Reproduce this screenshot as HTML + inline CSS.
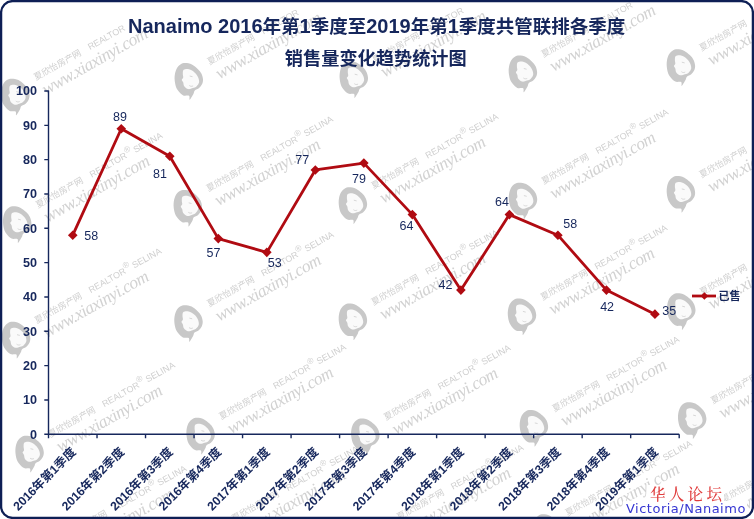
<!DOCTYPE html>
<html><head><meta charset="utf-8"><style>
html,body{margin:0;padding:0;background:#fff;}
body{width:754px;height:519px;overflow:hidden;}
svg{display:block;will-change:transform;}
.t{font-family:"Liberation Sans","Noto Sans CJK SC",sans-serif;}
.c{font-family:"Liberation Sans","Noto Sans CJK SC",sans-serif;}
.wm{font-family:"Liberation Sans","Noto Sans CJK SC",sans-serif;fill:#cfcfcf;}
.wmu{font-family:"Liberation Serif",serif;font-style:italic;fill:#d2d2d2;}
</style></head><body>
<svg width="754" height="519" viewBox="0 0 754 519">



<g transform="translate(15.4,96.9)"><path d="M-3.7,-18.2 C-1.8,-18.2 0.9,-17.8 3.0,-16.8 C5.1,-15.8 7.2,-13.9 8.8,-12.4 C10.4,-10.9 11.7,-9.4 12.6,-7.6 C13.5,-5.8 14.0,-3.6 14.1,-1.8 C14.2,-0.0 13.8,1.6 13.1,3.0 C12.4,4.4 11.4,5.8 10.2,6.8 C9.0,7.8 6.9,8.2 5.9,9.2 C5.0,10.2 5.3,11.1 4.5,12.6 C3.6,14.1 1.5,18.1 0.8,18.4 C0.1,18.7 1.2,15.2 0.1,14.5 C-1.0,13.8 -3.9,14.9 -5.7,14.1 C-7.5,13.3 -9.2,11.4 -10.5,9.7 C-11.8,8.0 -12.8,6.3 -13.4,3.9 C-14.0,1.5 -14.5,-2.0 -14.3,-4.7 C-14.1,-7.4 -13.4,-10.4 -12.4,-12.4 C-11.4,-14.4 -9.9,-15.8 -8.5,-16.8 C-7.0,-17.8 -5.6,-18.2 -3.7,-18.2 Z" fill="#c8c8c8"/>
<path d="M-5.2,-11.5 C-4.2,-12.2 -1.8,-12.5 0.1,-12.0 C2.0,-11.5 4.4,-10.0 5.9,-8.6 C7.4,-7.2 8.6,-5.4 9.3,-3.8 C10.0,-2.2 10.4,-0.4 10.2,1.0 C9.9,2.5 8.8,3.9 7.8,4.9 C6.8,5.9 5.4,6.3 4.0,6.8 C2.6,7.3 0.6,8.1 -0.8,7.8 C-2.2,7.5 -3.9,6.0 -4.7,4.9 C-5.5,3.8 -5.3,2.0 -5.7,1.0 C-6.1,-0.1 -7.1,-0.6 -7.1,-1.4 C-7.1,-2.2 -5.9,-2.8 -5.7,-3.8 C-5.5,-4.8 -6.2,-6.3 -6.1,-7.6 C-6.0,-8.9 -6.2,-10.8 -5.2,-11.5 Z" fill="#fafafa"/>
<path d="M0.8,-5.3 L3.6,-4.6 M0.4,4.2 C1.6,5.2 3,5.2 4.2,4.6" stroke="#d2d2d2" stroke-width="0.9" fill="none"/></g>
<g transform="translate(36.0,80.6) rotate(-29.5)"><text class="wm" x="0" y="0" font-size="8.8">夏欣怡房产网</text>
<text class="wm" x="62" y="0" font-size="8.9">REALTOR</text>
<text class="wmu" x="1.5" y="17.6" font-size="17.5" letter-spacing="-0.55">www.xiaxinyi.com</text></g>
<g transform="translate(17.3,224.5)"><path d="M-3.7,-18.2 C-1.8,-18.2 0.9,-17.8 3.0,-16.8 C5.1,-15.8 7.2,-13.9 8.8,-12.4 C10.4,-10.9 11.7,-9.4 12.6,-7.6 C13.5,-5.8 14.0,-3.6 14.1,-1.8 C14.2,-0.0 13.8,1.6 13.1,3.0 C12.4,4.4 11.4,5.8 10.2,6.8 C9.0,7.8 6.9,8.2 5.9,9.2 C5.0,10.2 5.3,11.1 4.5,12.6 C3.6,14.1 1.5,18.1 0.8,18.4 C0.1,18.7 1.2,15.2 0.1,14.5 C-1.0,13.8 -3.9,14.9 -5.7,14.1 C-7.5,13.3 -9.2,11.4 -10.5,9.7 C-11.8,8.0 -12.8,6.3 -13.4,3.9 C-14.0,1.5 -14.5,-2.0 -14.3,-4.7 C-14.1,-7.4 -13.4,-10.4 -12.4,-12.4 C-11.4,-14.4 -9.9,-15.8 -8.5,-16.8 C-7.0,-17.8 -5.6,-18.2 -3.7,-18.2 Z" fill="#c8c8c8"/>
<path d="M-5.2,-11.5 C-4.2,-12.2 -1.8,-12.5 0.1,-12.0 C2.0,-11.5 4.4,-10.0 5.9,-8.6 C7.4,-7.2 8.6,-5.4 9.3,-3.8 C10.0,-2.2 10.4,-0.4 10.2,1.0 C9.9,2.5 8.8,3.9 7.8,4.9 C6.8,5.9 5.4,6.3 4.0,6.8 C2.6,7.3 0.6,8.1 -0.8,7.8 C-2.2,7.5 -3.9,6.0 -4.7,4.9 C-5.5,3.8 -5.3,2.0 -5.7,1.0 C-6.1,-0.1 -7.1,-0.6 -7.1,-1.4 C-7.1,-2.2 -5.9,-2.8 -5.7,-3.8 C-5.5,-4.8 -6.2,-6.3 -6.1,-7.6 C-6.0,-8.9 -6.2,-10.8 -5.2,-11.5 Z" fill="#fafafa"/>
<path d="M0.8,-5.3 L3.6,-4.6 M0.4,4.2 C1.6,5.2 3,5.2 4.2,4.6" stroke="#d2d2d2" stroke-width="0.9" fill="none"/></g>
<g transform="translate(37.9,208.2) rotate(-29.5)"><text class="wm" x="0" y="0" font-size="8.8">夏欣怡房产网</text>
<text class="wm" x="62" y="0" font-size="8.9">REALTOR</text>
<text class="wmu" x="1.5" y="17.6" font-size="17.5" letter-spacing="-0.55">www.xiaxinyi.com</text><text class="wm" x="103.3" y="-4.3" font-size="8.5">®</text>
<text class="wm" x="112" y="0" font-size="9">SELINA</text></g>
<g transform="translate(16.2,340.0)"><path d="M-3.7,-18.2 C-1.8,-18.2 0.9,-17.8 3.0,-16.8 C5.1,-15.8 7.2,-13.9 8.8,-12.4 C10.4,-10.9 11.7,-9.4 12.6,-7.6 C13.5,-5.8 14.0,-3.6 14.1,-1.8 C14.2,-0.0 13.8,1.6 13.1,3.0 C12.4,4.4 11.4,5.8 10.2,6.8 C9.0,7.8 6.9,8.2 5.9,9.2 C5.0,10.2 5.3,11.1 4.5,12.6 C3.6,14.1 1.5,18.1 0.8,18.4 C0.1,18.7 1.2,15.2 0.1,14.5 C-1.0,13.8 -3.9,14.9 -5.7,14.1 C-7.5,13.3 -9.2,11.4 -10.5,9.7 C-11.8,8.0 -12.8,6.3 -13.4,3.9 C-14.0,1.5 -14.5,-2.0 -14.3,-4.7 C-14.1,-7.4 -13.4,-10.4 -12.4,-12.4 C-11.4,-14.4 -9.9,-15.8 -8.5,-16.8 C-7.0,-17.8 -5.6,-18.2 -3.7,-18.2 Z" fill="#c8c8c8"/>
<path d="M-5.2,-11.5 C-4.2,-12.2 -1.8,-12.5 0.1,-12.0 C2.0,-11.5 4.4,-10.0 5.9,-8.6 C7.4,-7.2 8.6,-5.4 9.3,-3.8 C10.0,-2.2 10.4,-0.4 10.2,1.0 C9.9,2.5 8.8,3.9 7.8,4.9 C6.8,5.9 5.4,6.3 4.0,6.8 C2.6,7.3 0.6,8.1 -0.8,7.8 C-2.2,7.5 -3.9,6.0 -4.7,4.9 C-5.5,3.8 -5.3,2.0 -5.7,1.0 C-6.1,-0.1 -7.1,-0.6 -7.1,-1.4 C-7.1,-2.2 -5.9,-2.8 -5.7,-3.8 C-5.5,-4.8 -6.2,-6.3 -6.1,-7.6 C-6.0,-8.9 -6.2,-10.8 -5.2,-11.5 Z" fill="#fafafa"/>
<path d="M0.8,-5.3 L3.6,-4.6 M0.4,4.2 C1.6,5.2 3,5.2 4.2,4.6" stroke="#d2d2d2" stroke-width="0.9" fill="none"/></g>
<g transform="translate(36.8,323.7) rotate(-29.5)"><text class="wm" x="0" y="0" font-size="8.8">夏欣怡房产网</text>
<text class="wm" x="62" y="0" font-size="8.9">REALTOR</text>
<text class="wmu" x="1.5" y="17.6" font-size="17.5" letter-spacing="-0.55">www.xiaxinyi.com</text><text class="wm" x="103.3" y="-4.3" font-size="8.5">®</text>
<text class="wm" x="112" y="0" font-size="9">SELINA</text></g>
<g transform="translate(29.7,454.0)"><path d="M-3.7,-18.2 C-1.8,-18.2 0.9,-17.8 3.0,-16.8 C5.1,-15.8 7.2,-13.9 8.8,-12.4 C10.4,-10.9 11.7,-9.4 12.6,-7.6 C13.5,-5.8 14.0,-3.6 14.1,-1.8 C14.2,-0.0 13.8,1.6 13.1,3.0 C12.4,4.4 11.4,5.8 10.2,6.8 C9.0,7.8 6.9,8.2 5.9,9.2 C5.0,10.2 5.3,11.1 4.5,12.6 C3.6,14.1 1.5,18.1 0.8,18.4 C0.1,18.7 1.2,15.2 0.1,14.5 C-1.0,13.8 -3.9,14.9 -5.7,14.1 C-7.5,13.3 -9.2,11.4 -10.5,9.7 C-11.8,8.0 -12.8,6.3 -13.4,3.9 C-14.0,1.5 -14.5,-2.0 -14.3,-4.7 C-14.1,-7.4 -13.4,-10.4 -12.4,-12.4 C-11.4,-14.4 -9.9,-15.8 -8.5,-16.8 C-7.0,-17.8 -5.6,-18.2 -3.7,-18.2 Z" fill="#c8c8c8"/>
<path d="M-5.2,-11.5 C-4.2,-12.2 -1.8,-12.5 0.1,-12.0 C2.0,-11.5 4.4,-10.0 5.9,-8.6 C7.4,-7.2 8.6,-5.4 9.3,-3.8 C10.0,-2.2 10.4,-0.4 10.2,1.0 C9.9,2.5 8.8,3.9 7.8,4.9 C6.8,5.9 5.4,6.3 4.0,6.8 C2.6,7.3 0.6,8.1 -0.8,7.8 C-2.2,7.5 -3.9,6.0 -4.7,4.9 C-5.5,3.8 -5.3,2.0 -5.7,1.0 C-6.1,-0.1 -7.1,-0.6 -7.1,-1.4 C-7.1,-2.2 -5.9,-2.8 -5.7,-3.8 C-5.5,-4.8 -6.2,-6.3 -6.1,-7.6 C-6.0,-8.9 -6.2,-10.8 -5.2,-11.5 Z" fill="#fafafa"/>
<path d="M0.8,-5.3 L3.6,-4.6 M0.4,4.2 C1.6,5.2 3,5.2 4.2,4.6" stroke="#d2d2d2" stroke-width="0.9" fill="none"/></g>
<g transform="translate(50.3,437.7) rotate(-29.5)"><text class="wm" x="0" y="0" font-size="8.8">夏欣怡房产网</text>
<text class="wm" x="62" y="0" font-size="8.9">REALTOR</text>
<text class="wmu" x="1.5" y="17.6" font-size="17.5" letter-spacing="-0.55">www.xiaxinyi.com</text><text class="wm" x="103.3" y="-4.3" font-size="8.5">®</text>
<text class="wm" x="112" y="0" font-size="9">SELINA</text></g>
<g transform="translate(41.4,557.5)"><path d="M-3.7,-18.2 C-1.8,-18.2 0.9,-17.8 3.0,-16.8 C5.1,-15.8 7.2,-13.9 8.8,-12.4 C10.4,-10.9 11.7,-9.4 12.6,-7.6 C13.5,-5.8 14.0,-3.6 14.1,-1.8 C14.2,-0.0 13.8,1.6 13.1,3.0 C12.4,4.4 11.4,5.8 10.2,6.8 C9.0,7.8 6.9,8.2 5.9,9.2 C5.0,10.2 5.3,11.1 4.5,12.6 C3.6,14.1 1.5,18.1 0.8,18.4 C0.1,18.7 1.2,15.2 0.1,14.5 C-1.0,13.8 -3.9,14.9 -5.7,14.1 C-7.5,13.3 -9.2,11.4 -10.5,9.7 C-11.8,8.0 -12.8,6.3 -13.4,3.9 C-14.0,1.5 -14.5,-2.0 -14.3,-4.7 C-14.1,-7.4 -13.4,-10.4 -12.4,-12.4 C-11.4,-14.4 -9.9,-15.8 -8.5,-16.8 C-7.0,-17.8 -5.6,-18.2 -3.7,-18.2 Z" fill="#c8c8c8"/>
<path d="M-5.2,-11.5 C-4.2,-12.2 -1.8,-12.5 0.1,-12.0 C2.0,-11.5 4.4,-10.0 5.9,-8.6 C7.4,-7.2 8.6,-5.4 9.3,-3.8 C10.0,-2.2 10.4,-0.4 10.2,1.0 C9.9,2.5 8.8,3.9 7.8,4.9 C6.8,5.9 5.4,6.3 4.0,6.8 C2.6,7.3 0.6,8.1 -0.8,7.8 C-2.2,7.5 -3.9,6.0 -4.7,4.9 C-5.5,3.8 -5.3,2.0 -5.7,1.0 C-6.1,-0.1 -7.1,-0.6 -7.1,-1.4 C-7.1,-2.2 -5.9,-2.8 -5.7,-3.8 C-5.5,-4.8 -6.2,-6.3 -6.1,-7.6 C-6.0,-8.9 -6.2,-10.8 -5.2,-11.5 Z" fill="#fafafa"/>
<path d="M0.8,-5.3 L3.6,-4.6 M0.4,4.2 C1.6,5.2 3,5.2 4.2,4.6" stroke="#d2d2d2" stroke-width="0.9" fill="none"/></g>
<g transform="translate(62.0,541.2) rotate(-29.5)"><text class="wm" x="0" y="0" font-size="8.8">夏欣怡房产网</text>
<text class="wm" x="62" y="0" font-size="8.9">REALTOR</text>
<text class="wmu" x="1.5" y="17.6" font-size="17.5" letter-spacing="-0.55">www.xiaxinyi.com</text><text class="wm" x="103.3" y="-4.3" font-size="8.5">®</text>
<text class="wm" x="112" y="0" font-size="9">SELINA</text></g>
<g transform="translate(188.9,81.3)"><path d="M-3.7,-18.2 C-1.8,-18.2 0.9,-17.8 3.0,-16.8 C5.1,-15.8 7.2,-13.9 8.8,-12.4 C10.4,-10.9 11.7,-9.4 12.6,-7.6 C13.5,-5.8 14.0,-3.6 14.1,-1.8 C14.2,-0.0 13.8,1.6 13.1,3.0 C12.4,4.4 11.4,5.8 10.2,6.8 C9.0,7.8 6.9,8.2 5.9,9.2 C5.0,10.2 5.3,11.1 4.5,12.6 C3.6,14.1 1.5,18.1 0.8,18.4 C0.1,18.7 1.2,15.2 0.1,14.5 C-1.0,13.8 -3.9,14.9 -5.7,14.1 C-7.5,13.3 -9.2,11.4 -10.5,9.7 C-11.8,8.0 -12.8,6.3 -13.4,3.9 C-14.0,1.5 -14.5,-2.0 -14.3,-4.7 C-14.1,-7.4 -13.4,-10.4 -12.4,-12.4 C-11.4,-14.4 -9.9,-15.8 -8.5,-16.8 C-7.0,-17.8 -5.6,-18.2 -3.7,-18.2 Z" fill="#c8c8c8"/>
<path d="M-5.2,-11.5 C-4.2,-12.2 -1.8,-12.5 0.1,-12.0 C2.0,-11.5 4.4,-10.0 5.9,-8.6 C7.4,-7.2 8.6,-5.4 9.3,-3.8 C10.0,-2.2 10.4,-0.4 10.2,1.0 C9.9,2.5 8.8,3.9 7.8,4.9 C6.8,5.9 5.4,6.3 4.0,6.8 C2.6,7.3 0.6,8.1 -0.8,7.8 C-2.2,7.5 -3.9,6.0 -4.7,4.9 C-5.5,3.8 -5.3,2.0 -5.7,1.0 C-6.1,-0.1 -7.1,-0.6 -7.1,-1.4 C-7.1,-2.2 -5.9,-2.8 -5.7,-3.8 C-5.5,-4.8 -6.2,-6.3 -6.1,-7.6 C-6.0,-8.9 -6.2,-10.8 -5.2,-11.5 Z" fill="#fafafa"/>
<path d="M0.8,-5.3 L3.6,-4.6 M0.4,4.2 C1.6,5.2 3,5.2 4.2,4.6" stroke="#d2d2d2" stroke-width="0.9" fill="none"/></g>
<g transform="translate(209.5,65.0) rotate(-29.5)"><text class="wm" x="0" y="0" font-size="8.8">夏欣怡房产网</text>
<text class="wm" x="62" y="0" font-size="8.9">REALTOR</text>
<text class="wmu" x="1.5" y="17.6" font-size="17.5" letter-spacing="-0.55">www.xiaxinyi.com</text></g>
<g transform="translate(187.9,208.1)"><path d="M-3.7,-18.2 C-1.8,-18.2 0.9,-17.8 3.0,-16.8 C5.1,-15.8 7.2,-13.9 8.8,-12.4 C10.4,-10.9 11.7,-9.4 12.6,-7.6 C13.5,-5.8 14.0,-3.6 14.1,-1.8 C14.2,-0.0 13.8,1.6 13.1,3.0 C12.4,4.4 11.4,5.8 10.2,6.8 C9.0,7.8 6.9,8.2 5.9,9.2 C5.0,10.2 5.3,11.1 4.5,12.6 C3.6,14.1 1.5,18.1 0.8,18.4 C0.1,18.7 1.2,15.2 0.1,14.5 C-1.0,13.8 -3.9,14.9 -5.7,14.1 C-7.5,13.3 -9.2,11.4 -10.5,9.7 C-11.8,8.0 -12.8,6.3 -13.4,3.9 C-14.0,1.5 -14.5,-2.0 -14.3,-4.7 C-14.1,-7.4 -13.4,-10.4 -12.4,-12.4 C-11.4,-14.4 -9.9,-15.8 -8.5,-16.8 C-7.0,-17.8 -5.6,-18.2 -3.7,-18.2 Z" fill="#c8c8c8"/>
<path d="M-5.2,-11.5 C-4.2,-12.2 -1.8,-12.5 0.1,-12.0 C2.0,-11.5 4.4,-10.0 5.9,-8.6 C7.4,-7.2 8.6,-5.4 9.3,-3.8 C10.0,-2.2 10.4,-0.4 10.2,1.0 C9.9,2.5 8.8,3.9 7.8,4.9 C6.8,5.9 5.4,6.3 4.0,6.8 C2.6,7.3 0.6,8.1 -0.8,7.8 C-2.2,7.5 -3.9,6.0 -4.7,4.9 C-5.5,3.8 -5.3,2.0 -5.7,1.0 C-6.1,-0.1 -7.1,-0.6 -7.1,-1.4 C-7.1,-2.2 -5.9,-2.8 -5.7,-3.8 C-5.5,-4.8 -6.2,-6.3 -6.1,-7.6 C-6.0,-8.9 -6.2,-10.8 -5.2,-11.5 Z" fill="#fafafa"/>
<path d="M0.8,-5.3 L3.6,-4.6 M0.4,4.2 C1.6,5.2 3,5.2 4.2,4.6" stroke="#d2d2d2" stroke-width="0.9" fill="none"/></g>
<g transform="translate(208.5,191.8) rotate(-29.5)"><text class="wm" x="0" y="0" font-size="8.8">夏欣怡房产网</text>
<text class="wm" x="62" y="0" font-size="8.9">REALTOR</text>
<text class="wmu" x="1.5" y="17.6" font-size="17.5" letter-spacing="-0.55">www.xiaxinyi.com</text><text class="wm" x="103.3" y="-4.3" font-size="8.5">®</text>
<text class="wm" x="112" y="0" font-size="9">SELINA</text></g>
<g transform="translate(188.6,323.4)"><path d="M-3.7,-18.2 C-1.8,-18.2 0.9,-17.8 3.0,-16.8 C5.1,-15.8 7.2,-13.9 8.8,-12.4 C10.4,-10.9 11.7,-9.4 12.6,-7.6 C13.5,-5.8 14.0,-3.6 14.1,-1.8 C14.2,-0.0 13.8,1.6 13.1,3.0 C12.4,4.4 11.4,5.8 10.2,6.8 C9.0,7.8 6.9,8.2 5.9,9.2 C5.0,10.2 5.3,11.1 4.5,12.6 C3.6,14.1 1.5,18.1 0.8,18.4 C0.1,18.7 1.2,15.2 0.1,14.5 C-1.0,13.8 -3.9,14.9 -5.7,14.1 C-7.5,13.3 -9.2,11.4 -10.5,9.7 C-11.8,8.0 -12.8,6.3 -13.4,3.9 C-14.0,1.5 -14.5,-2.0 -14.3,-4.7 C-14.1,-7.4 -13.4,-10.4 -12.4,-12.4 C-11.4,-14.4 -9.9,-15.8 -8.5,-16.8 C-7.0,-17.8 -5.6,-18.2 -3.7,-18.2 Z" fill="#c8c8c8"/>
<path d="M-5.2,-11.5 C-4.2,-12.2 -1.8,-12.5 0.1,-12.0 C2.0,-11.5 4.4,-10.0 5.9,-8.6 C7.4,-7.2 8.6,-5.4 9.3,-3.8 C10.0,-2.2 10.4,-0.4 10.2,1.0 C9.9,2.5 8.8,3.9 7.8,4.9 C6.8,5.9 5.4,6.3 4.0,6.8 C2.6,7.3 0.6,8.1 -0.8,7.8 C-2.2,7.5 -3.9,6.0 -4.7,4.9 C-5.5,3.8 -5.3,2.0 -5.7,1.0 C-6.1,-0.1 -7.1,-0.6 -7.1,-1.4 C-7.1,-2.2 -5.9,-2.8 -5.7,-3.8 C-5.5,-4.8 -6.2,-6.3 -6.1,-7.6 C-6.0,-8.9 -6.2,-10.8 -5.2,-11.5 Z" fill="#fafafa"/>
<path d="M0.8,-5.3 L3.6,-4.6 M0.4,4.2 C1.6,5.2 3,5.2 4.2,4.6" stroke="#d2d2d2" stroke-width="0.9" fill="none"/></g>
<g transform="translate(209.2,307.1) rotate(-29.5)"><text class="wm" x="0" y="0" font-size="8.8">夏欣怡房产网</text>
<text class="wm" x="62" y="0" font-size="8.9">REALTOR</text>
<text class="wmu" x="1.5" y="17.6" font-size="17.5" letter-spacing="-0.55">www.xiaxinyi.com</text><text class="wm" x="103.3" y="-4.3" font-size="8.5">®</text>
<text class="wm" x="112" y="0" font-size="9">SELINA</text></g>
<g transform="translate(200.7,436.0)"><path d="M-3.7,-18.2 C-1.8,-18.2 0.9,-17.8 3.0,-16.8 C5.1,-15.8 7.2,-13.9 8.8,-12.4 C10.4,-10.9 11.7,-9.4 12.6,-7.6 C13.5,-5.8 14.0,-3.6 14.1,-1.8 C14.2,-0.0 13.8,1.6 13.1,3.0 C12.4,4.4 11.4,5.8 10.2,6.8 C9.0,7.8 6.9,8.2 5.9,9.2 C5.0,10.2 5.3,11.1 4.5,12.6 C3.6,14.1 1.5,18.1 0.8,18.4 C0.1,18.7 1.2,15.2 0.1,14.5 C-1.0,13.8 -3.9,14.9 -5.7,14.1 C-7.5,13.3 -9.2,11.4 -10.5,9.7 C-11.8,8.0 -12.8,6.3 -13.4,3.9 C-14.0,1.5 -14.5,-2.0 -14.3,-4.7 C-14.1,-7.4 -13.4,-10.4 -12.4,-12.4 C-11.4,-14.4 -9.9,-15.8 -8.5,-16.8 C-7.0,-17.8 -5.6,-18.2 -3.7,-18.2 Z" fill="#c8c8c8"/>
<path d="M-5.2,-11.5 C-4.2,-12.2 -1.8,-12.5 0.1,-12.0 C2.0,-11.5 4.4,-10.0 5.9,-8.6 C7.4,-7.2 8.6,-5.4 9.3,-3.8 C10.0,-2.2 10.4,-0.4 10.2,1.0 C9.9,2.5 8.8,3.9 7.8,4.9 C6.8,5.9 5.4,6.3 4.0,6.8 C2.6,7.3 0.6,8.1 -0.8,7.8 C-2.2,7.5 -3.9,6.0 -4.7,4.9 C-5.5,3.8 -5.3,2.0 -5.7,1.0 C-6.1,-0.1 -7.1,-0.6 -7.1,-1.4 C-7.1,-2.2 -5.9,-2.8 -5.7,-3.8 C-5.5,-4.8 -6.2,-6.3 -6.1,-7.6 C-6.0,-8.9 -6.2,-10.8 -5.2,-11.5 Z" fill="#fafafa"/>
<path d="M0.8,-5.3 L3.6,-4.6 M0.4,4.2 C1.6,5.2 3,5.2 4.2,4.6" stroke="#d2d2d2" stroke-width="0.9" fill="none"/></g>
<g transform="translate(221.3,419.7) rotate(-29.5)"><text class="wm" x="0" y="0" font-size="8.8">夏欣怡房产网</text>
<text class="wm" x="62" y="0" font-size="8.9">REALTOR</text>
<text class="wmu" x="1.5" y="17.6" font-size="17.5" letter-spacing="-0.55">www.xiaxinyi.com</text><text class="wm" x="103.3" y="-4.3" font-size="8.5">®</text>
<text class="wm" x="112" y="0" font-size="9">SELINA</text></g>
<g transform="translate(213.4,538.0)"><path d="M-3.7,-18.2 C-1.8,-18.2 0.9,-17.8 3.0,-16.8 C5.1,-15.8 7.2,-13.9 8.8,-12.4 C10.4,-10.9 11.7,-9.4 12.6,-7.6 C13.5,-5.8 14.0,-3.6 14.1,-1.8 C14.2,-0.0 13.8,1.6 13.1,3.0 C12.4,4.4 11.4,5.8 10.2,6.8 C9.0,7.8 6.9,8.2 5.9,9.2 C5.0,10.2 5.3,11.1 4.5,12.6 C3.6,14.1 1.5,18.1 0.8,18.4 C0.1,18.7 1.2,15.2 0.1,14.5 C-1.0,13.8 -3.9,14.9 -5.7,14.1 C-7.5,13.3 -9.2,11.4 -10.5,9.7 C-11.8,8.0 -12.8,6.3 -13.4,3.9 C-14.0,1.5 -14.5,-2.0 -14.3,-4.7 C-14.1,-7.4 -13.4,-10.4 -12.4,-12.4 C-11.4,-14.4 -9.9,-15.8 -8.5,-16.8 C-7.0,-17.8 -5.6,-18.2 -3.7,-18.2 Z" fill="#c8c8c8"/>
<path d="M-5.2,-11.5 C-4.2,-12.2 -1.8,-12.5 0.1,-12.0 C2.0,-11.5 4.4,-10.0 5.9,-8.6 C7.4,-7.2 8.6,-5.4 9.3,-3.8 C10.0,-2.2 10.4,-0.4 10.2,1.0 C9.9,2.5 8.8,3.9 7.8,4.9 C6.8,5.9 5.4,6.3 4.0,6.8 C2.6,7.3 0.6,8.1 -0.8,7.8 C-2.2,7.5 -3.9,6.0 -4.7,4.9 C-5.5,3.8 -5.3,2.0 -5.7,1.0 C-6.1,-0.1 -7.1,-0.6 -7.1,-1.4 C-7.1,-2.2 -5.9,-2.8 -5.7,-3.8 C-5.5,-4.8 -6.2,-6.3 -6.1,-7.6 C-6.0,-8.9 -6.2,-10.8 -5.2,-11.5 Z" fill="#fafafa"/>
<path d="M0.8,-5.3 L3.6,-4.6 M0.4,4.2 C1.6,5.2 3,5.2 4.2,4.6" stroke="#d2d2d2" stroke-width="0.9" fill="none"/></g>
<g transform="translate(234.0,521.7) rotate(-29.5)"><text class="wm" x="0" y="0" font-size="8.8">夏欣怡房产网</text>
<text class="wm" x="62" y="0" font-size="8.9">REALTOR</text>
<text class="wmu" x="1.5" y="17.6" font-size="17.5" letter-spacing="-0.55">www.xiaxinyi.com</text><text class="wm" x="103.3" y="-4.3" font-size="8.5">®</text>
<text class="wm" x="112" y="0" font-size="9">SELINA</text></g>
<g transform="translate(353.9,79.5)"><path d="M-3.7,-18.2 C-1.8,-18.2 0.9,-17.8 3.0,-16.8 C5.1,-15.8 7.2,-13.9 8.8,-12.4 C10.4,-10.9 11.7,-9.4 12.6,-7.6 C13.5,-5.8 14.0,-3.6 14.1,-1.8 C14.2,-0.0 13.8,1.6 13.1,3.0 C12.4,4.4 11.4,5.8 10.2,6.8 C9.0,7.8 6.9,8.2 5.9,9.2 C5.0,10.2 5.3,11.1 4.5,12.6 C3.6,14.1 1.5,18.1 0.8,18.4 C0.1,18.7 1.2,15.2 0.1,14.5 C-1.0,13.8 -3.9,14.9 -5.7,14.1 C-7.5,13.3 -9.2,11.4 -10.5,9.7 C-11.8,8.0 -12.8,6.3 -13.4,3.9 C-14.0,1.5 -14.5,-2.0 -14.3,-4.7 C-14.1,-7.4 -13.4,-10.4 -12.4,-12.4 C-11.4,-14.4 -9.9,-15.8 -8.5,-16.8 C-7.0,-17.8 -5.6,-18.2 -3.7,-18.2 Z" fill="#c8c8c8"/>
<path d="M-5.2,-11.5 C-4.2,-12.2 -1.8,-12.5 0.1,-12.0 C2.0,-11.5 4.4,-10.0 5.9,-8.6 C7.4,-7.2 8.6,-5.4 9.3,-3.8 C10.0,-2.2 10.4,-0.4 10.2,1.0 C9.9,2.5 8.8,3.9 7.8,4.9 C6.8,5.9 5.4,6.3 4.0,6.8 C2.6,7.3 0.6,8.1 -0.8,7.8 C-2.2,7.5 -3.9,6.0 -4.7,4.9 C-5.5,3.8 -5.3,2.0 -5.7,1.0 C-6.1,-0.1 -7.1,-0.6 -7.1,-1.4 C-7.1,-2.2 -5.9,-2.8 -5.7,-3.8 C-5.5,-4.8 -6.2,-6.3 -6.1,-7.6 C-6.0,-8.9 -6.2,-10.8 -5.2,-11.5 Z" fill="#fafafa"/>
<path d="M0.8,-5.3 L3.6,-4.6 M0.4,4.2 C1.6,5.2 3,5.2 4.2,4.6" stroke="#d2d2d2" stroke-width="0.9" fill="none"/></g>
<g transform="translate(374.5,63.2) rotate(-29.5)"><text class="wm" x="0" y="0" font-size="8.8">夏欣怡房产网</text>
<text class="wm" x="62" y="0" font-size="8.9">REALTOR</text>
<text class="wmu" x="1.5" y="17.6" font-size="17.5" letter-spacing="-0.55">www.xiaxinyi.com</text></g>
<g transform="translate(353.0,205.5)"><path d="M-3.7,-18.2 C-1.8,-18.2 0.9,-17.8 3.0,-16.8 C5.1,-15.8 7.2,-13.9 8.8,-12.4 C10.4,-10.9 11.7,-9.4 12.6,-7.6 C13.5,-5.8 14.0,-3.6 14.1,-1.8 C14.2,-0.0 13.8,1.6 13.1,3.0 C12.4,4.4 11.4,5.8 10.2,6.8 C9.0,7.8 6.9,8.2 5.9,9.2 C5.0,10.2 5.3,11.1 4.5,12.6 C3.6,14.1 1.5,18.1 0.8,18.4 C0.1,18.7 1.2,15.2 0.1,14.5 C-1.0,13.8 -3.9,14.9 -5.7,14.1 C-7.5,13.3 -9.2,11.4 -10.5,9.7 C-11.8,8.0 -12.8,6.3 -13.4,3.9 C-14.0,1.5 -14.5,-2.0 -14.3,-4.7 C-14.1,-7.4 -13.4,-10.4 -12.4,-12.4 C-11.4,-14.4 -9.9,-15.8 -8.5,-16.8 C-7.0,-17.8 -5.6,-18.2 -3.7,-18.2 Z" fill="#c8c8c8"/>
<path d="M-5.2,-11.5 C-4.2,-12.2 -1.8,-12.5 0.1,-12.0 C2.0,-11.5 4.4,-10.0 5.9,-8.6 C7.4,-7.2 8.6,-5.4 9.3,-3.8 C10.0,-2.2 10.4,-0.4 10.2,1.0 C9.9,2.5 8.8,3.9 7.8,4.9 C6.8,5.9 5.4,6.3 4.0,6.8 C2.6,7.3 0.6,8.1 -0.8,7.8 C-2.2,7.5 -3.9,6.0 -4.7,4.9 C-5.5,3.8 -5.3,2.0 -5.7,1.0 C-6.1,-0.1 -7.1,-0.6 -7.1,-1.4 C-7.1,-2.2 -5.9,-2.8 -5.7,-3.8 C-5.5,-4.8 -6.2,-6.3 -6.1,-7.6 C-6.0,-8.9 -6.2,-10.8 -5.2,-11.5 Z" fill="#fafafa"/>
<path d="M0.8,-5.3 L3.6,-4.6 M0.4,4.2 C1.6,5.2 3,5.2 4.2,4.6" stroke="#d2d2d2" stroke-width="0.9" fill="none"/></g>
<g transform="translate(373.6,189.2) rotate(-29.5)"><text class="wm" x="0" y="0" font-size="8.8">夏欣怡房产网</text>
<text class="wm" x="62" y="0" font-size="8.9">REALTOR</text>
<text class="wmu" x="1.5" y="17.6" font-size="17.5" letter-spacing="-0.55">www.xiaxinyi.com</text><text class="wm" x="103.3" y="-4.3" font-size="8.5">®</text>
<text class="wm" x="112" y="0" font-size="9">SELINA</text></g>
<g transform="translate(353.0,321.7)"><path d="M-3.7,-18.2 C-1.8,-18.2 0.9,-17.8 3.0,-16.8 C5.1,-15.8 7.2,-13.9 8.8,-12.4 C10.4,-10.9 11.7,-9.4 12.6,-7.6 C13.5,-5.8 14.0,-3.6 14.1,-1.8 C14.2,-0.0 13.8,1.6 13.1,3.0 C12.4,4.4 11.4,5.8 10.2,6.8 C9.0,7.8 6.9,8.2 5.9,9.2 C5.0,10.2 5.3,11.1 4.5,12.6 C3.6,14.1 1.5,18.1 0.8,18.4 C0.1,18.7 1.2,15.2 0.1,14.5 C-1.0,13.8 -3.9,14.9 -5.7,14.1 C-7.5,13.3 -9.2,11.4 -10.5,9.7 C-11.8,8.0 -12.8,6.3 -13.4,3.9 C-14.0,1.5 -14.5,-2.0 -14.3,-4.7 C-14.1,-7.4 -13.4,-10.4 -12.4,-12.4 C-11.4,-14.4 -9.9,-15.8 -8.5,-16.8 C-7.0,-17.8 -5.6,-18.2 -3.7,-18.2 Z" fill="#c8c8c8"/>
<path d="M-5.2,-11.5 C-4.2,-12.2 -1.8,-12.5 0.1,-12.0 C2.0,-11.5 4.4,-10.0 5.9,-8.6 C7.4,-7.2 8.6,-5.4 9.3,-3.8 C10.0,-2.2 10.4,-0.4 10.2,1.0 C9.9,2.5 8.8,3.9 7.8,4.9 C6.8,5.9 5.4,6.3 4.0,6.8 C2.6,7.3 0.6,8.1 -0.8,7.8 C-2.2,7.5 -3.9,6.0 -4.7,4.9 C-5.5,3.8 -5.3,2.0 -5.7,1.0 C-6.1,-0.1 -7.1,-0.6 -7.1,-1.4 C-7.1,-2.2 -5.9,-2.8 -5.7,-3.8 C-5.5,-4.8 -6.2,-6.3 -6.1,-7.6 C-6.0,-8.9 -6.2,-10.8 -5.2,-11.5 Z" fill="#fafafa"/>
<path d="M0.8,-5.3 L3.6,-4.6 M0.4,4.2 C1.6,5.2 3,5.2 4.2,4.6" stroke="#d2d2d2" stroke-width="0.9" fill="none"/></g>
<g transform="translate(373.6,305.4) rotate(-29.5)"><text class="wm" x="0" y="0" font-size="8.8">夏欣怡房产网</text>
<text class="wm" x="62" y="0" font-size="8.9">REALTOR</text>
<text class="wmu" x="1.5" y="17.6" font-size="17.5" letter-spacing="-0.55">www.xiaxinyi.com</text><text class="wm" x="103.3" y="-4.3" font-size="8.5">®</text>
<text class="wm" x="112" y="0" font-size="9">SELINA</text></g>
<g transform="translate(365.4,436.7)"><path d="M-3.7,-18.2 C-1.8,-18.2 0.9,-17.8 3.0,-16.8 C5.1,-15.8 7.2,-13.9 8.8,-12.4 C10.4,-10.9 11.7,-9.4 12.6,-7.6 C13.5,-5.8 14.0,-3.6 14.1,-1.8 C14.2,-0.0 13.8,1.6 13.1,3.0 C12.4,4.4 11.4,5.8 10.2,6.8 C9.0,7.8 6.9,8.2 5.9,9.2 C5.0,10.2 5.3,11.1 4.5,12.6 C3.6,14.1 1.5,18.1 0.8,18.4 C0.1,18.7 1.2,15.2 0.1,14.5 C-1.0,13.8 -3.9,14.9 -5.7,14.1 C-7.5,13.3 -9.2,11.4 -10.5,9.7 C-11.8,8.0 -12.8,6.3 -13.4,3.9 C-14.0,1.5 -14.5,-2.0 -14.3,-4.7 C-14.1,-7.4 -13.4,-10.4 -12.4,-12.4 C-11.4,-14.4 -9.9,-15.8 -8.5,-16.8 C-7.0,-17.8 -5.6,-18.2 -3.7,-18.2 Z" fill="#c8c8c8"/>
<path d="M-5.2,-11.5 C-4.2,-12.2 -1.8,-12.5 0.1,-12.0 C2.0,-11.5 4.4,-10.0 5.9,-8.6 C7.4,-7.2 8.6,-5.4 9.3,-3.8 C10.0,-2.2 10.4,-0.4 10.2,1.0 C9.9,2.5 8.8,3.9 7.8,4.9 C6.8,5.9 5.4,6.3 4.0,6.8 C2.6,7.3 0.6,8.1 -0.8,7.8 C-2.2,7.5 -3.9,6.0 -4.7,4.9 C-5.5,3.8 -5.3,2.0 -5.7,1.0 C-6.1,-0.1 -7.1,-0.6 -7.1,-1.4 C-7.1,-2.2 -5.9,-2.8 -5.7,-3.8 C-5.5,-4.8 -6.2,-6.3 -6.1,-7.6 C-6.0,-8.9 -6.2,-10.8 -5.2,-11.5 Z" fill="#fafafa"/>
<path d="M0.8,-5.3 L3.6,-4.6 M0.4,4.2 C1.6,5.2 3,5.2 4.2,4.6" stroke="#d2d2d2" stroke-width="0.9" fill="none"/></g>
<g transform="translate(386.0,420.4) rotate(-29.5)"><text class="wm" x="0" y="0" font-size="8.8">夏欣怡房产网</text>
<text class="wm" x="62" y="0" font-size="8.9">REALTOR</text>
<text class="wmu" x="1.5" y="17.6" font-size="17.5" letter-spacing="-0.55">www.xiaxinyi.com</text><text class="wm" x="103.3" y="-4.3" font-size="8.5">®</text>
<text class="wm" x="112" y="0" font-size="9">SELINA</text></g>
<g transform="translate(378.4,536.5)"><path d="M-3.7,-18.2 C-1.8,-18.2 0.9,-17.8 3.0,-16.8 C5.1,-15.8 7.2,-13.9 8.8,-12.4 C10.4,-10.9 11.7,-9.4 12.6,-7.6 C13.5,-5.8 14.0,-3.6 14.1,-1.8 C14.2,-0.0 13.8,1.6 13.1,3.0 C12.4,4.4 11.4,5.8 10.2,6.8 C9.0,7.8 6.9,8.2 5.9,9.2 C5.0,10.2 5.3,11.1 4.5,12.6 C3.6,14.1 1.5,18.1 0.8,18.4 C0.1,18.7 1.2,15.2 0.1,14.5 C-1.0,13.8 -3.9,14.9 -5.7,14.1 C-7.5,13.3 -9.2,11.4 -10.5,9.7 C-11.8,8.0 -12.8,6.3 -13.4,3.9 C-14.0,1.5 -14.5,-2.0 -14.3,-4.7 C-14.1,-7.4 -13.4,-10.4 -12.4,-12.4 C-11.4,-14.4 -9.9,-15.8 -8.5,-16.8 C-7.0,-17.8 -5.6,-18.2 -3.7,-18.2 Z" fill="#c8c8c8"/>
<path d="M-5.2,-11.5 C-4.2,-12.2 -1.8,-12.5 0.1,-12.0 C2.0,-11.5 4.4,-10.0 5.9,-8.6 C7.4,-7.2 8.6,-5.4 9.3,-3.8 C10.0,-2.2 10.4,-0.4 10.2,1.0 C9.9,2.5 8.8,3.9 7.8,4.9 C6.8,5.9 5.4,6.3 4.0,6.8 C2.6,7.3 0.6,8.1 -0.8,7.8 C-2.2,7.5 -3.9,6.0 -4.7,4.9 C-5.5,3.8 -5.3,2.0 -5.7,1.0 C-6.1,-0.1 -7.1,-0.6 -7.1,-1.4 C-7.1,-2.2 -5.9,-2.8 -5.7,-3.8 C-5.5,-4.8 -6.2,-6.3 -6.1,-7.6 C-6.0,-8.9 -6.2,-10.8 -5.2,-11.5 Z" fill="#fafafa"/>
<path d="M0.8,-5.3 L3.6,-4.6 M0.4,4.2 C1.6,5.2 3,5.2 4.2,4.6" stroke="#d2d2d2" stroke-width="0.9" fill="none"/></g>
<g transform="translate(399.0,520.2) rotate(-29.5)"><text class="wm" x="0" y="0" font-size="8.8">夏欣怡房产网</text>
<text class="wm" x="62" y="0" font-size="8.9">REALTOR</text>
<text class="wmu" x="1.5" y="17.6" font-size="17.5" letter-spacing="-0.55">www.xiaxinyi.com</text><text class="wm" x="103.3" y="-4.3" font-size="8.5">®</text>
<text class="wm" x="112" y="0" font-size="9">SELINA</text></g>
<g transform="translate(523.0,73.8)"><path d="M-3.7,-18.2 C-1.8,-18.2 0.9,-17.8 3.0,-16.8 C5.1,-15.8 7.2,-13.9 8.8,-12.4 C10.4,-10.9 11.7,-9.4 12.6,-7.6 C13.5,-5.8 14.0,-3.6 14.1,-1.8 C14.2,-0.0 13.8,1.6 13.1,3.0 C12.4,4.4 11.4,5.8 10.2,6.8 C9.0,7.8 6.9,8.2 5.9,9.2 C5.0,10.2 5.3,11.1 4.5,12.6 C3.6,14.1 1.5,18.1 0.8,18.4 C0.1,18.7 1.2,15.2 0.1,14.5 C-1.0,13.8 -3.9,14.9 -5.7,14.1 C-7.5,13.3 -9.2,11.4 -10.5,9.7 C-11.8,8.0 -12.8,6.3 -13.4,3.9 C-14.0,1.5 -14.5,-2.0 -14.3,-4.7 C-14.1,-7.4 -13.4,-10.4 -12.4,-12.4 C-11.4,-14.4 -9.9,-15.8 -8.5,-16.8 C-7.0,-17.8 -5.6,-18.2 -3.7,-18.2 Z" fill="#c8c8c8"/>
<path d="M-5.2,-11.5 C-4.2,-12.2 -1.8,-12.5 0.1,-12.0 C2.0,-11.5 4.4,-10.0 5.9,-8.6 C7.4,-7.2 8.6,-5.4 9.3,-3.8 C10.0,-2.2 10.4,-0.4 10.2,1.0 C9.9,2.5 8.8,3.9 7.8,4.9 C6.8,5.9 5.4,6.3 4.0,6.8 C2.6,7.3 0.6,8.1 -0.8,7.8 C-2.2,7.5 -3.9,6.0 -4.7,4.9 C-5.5,3.8 -5.3,2.0 -5.7,1.0 C-6.1,-0.1 -7.1,-0.6 -7.1,-1.4 C-7.1,-2.2 -5.9,-2.8 -5.7,-3.8 C-5.5,-4.8 -6.2,-6.3 -6.1,-7.6 C-6.0,-8.9 -6.2,-10.8 -5.2,-11.5 Z" fill="#fafafa"/>
<path d="M0.8,-5.3 L3.6,-4.6 M0.4,4.2 C1.6,5.2 3,5.2 4.2,4.6" stroke="#d2d2d2" stroke-width="0.9" fill="none"/></g>
<g transform="translate(543.6,57.5) rotate(-29.5)"><text class="wm" x="0" y="0" font-size="8.8">夏欣怡房产网</text>
<text class="wm" x="62" y="0" font-size="8.9">REALTOR</text>
<text class="wmu" x="1.5" y="17.6" font-size="17.5" letter-spacing="-0.55">www.xiaxinyi.com</text></g>
<g transform="translate(523.1,200.9)"><path d="M-3.7,-18.2 C-1.8,-18.2 0.9,-17.8 3.0,-16.8 C5.1,-15.8 7.2,-13.9 8.8,-12.4 C10.4,-10.9 11.7,-9.4 12.6,-7.6 C13.5,-5.8 14.0,-3.6 14.1,-1.8 C14.2,-0.0 13.8,1.6 13.1,3.0 C12.4,4.4 11.4,5.8 10.2,6.8 C9.0,7.8 6.9,8.2 5.9,9.2 C5.0,10.2 5.3,11.1 4.5,12.6 C3.6,14.1 1.5,18.1 0.8,18.4 C0.1,18.7 1.2,15.2 0.1,14.5 C-1.0,13.8 -3.9,14.9 -5.7,14.1 C-7.5,13.3 -9.2,11.4 -10.5,9.7 C-11.8,8.0 -12.8,6.3 -13.4,3.9 C-14.0,1.5 -14.5,-2.0 -14.3,-4.7 C-14.1,-7.4 -13.4,-10.4 -12.4,-12.4 C-11.4,-14.4 -9.9,-15.8 -8.5,-16.8 C-7.0,-17.8 -5.6,-18.2 -3.7,-18.2 Z" fill="#c8c8c8"/>
<path d="M-5.2,-11.5 C-4.2,-12.2 -1.8,-12.5 0.1,-12.0 C2.0,-11.5 4.4,-10.0 5.9,-8.6 C7.4,-7.2 8.6,-5.4 9.3,-3.8 C10.0,-2.2 10.4,-0.4 10.2,1.0 C9.9,2.5 8.8,3.9 7.8,4.9 C6.8,5.9 5.4,6.3 4.0,6.8 C2.6,7.3 0.6,8.1 -0.8,7.8 C-2.2,7.5 -3.9,6.0 -4.7,4.9 C-5.5,3.8 -5.3,2.0 -5.7,1.0 C-6.1,-0.1 -7.1,-0.6 -7.1,-1.4 C-7.1,-2.2 -5.9,-2.8 -5.7,-3.8 C-5.5,-4.8 -6.2,-6.3 -6.1,-7.6 C-6.0,-8.9 -6.2,-10.8 -5.2,-11.5 Z" fill="#fafafa"/>
<path d="M0.8,-5.3 L3.6,-4.6 M0.4,4.2 C1.6,5.2 3,5.2 4.2,4.6" stroke="#d2d2d2" stroke-width="0.9" fill="none"/></g>
<g transform="translate(543.7,184.6) rotate(-29.5)"><text class="wm" x="0" y="0" font-size="8.8">夏欣怡房产网</text>
<text class="wm" x="62" y="0" font-size="8.9">REALTOR</text>
<text class="wmu" x="1.5" y="17.6" font-size="17.5" letter-spacing="-0.55">www.xiaxinyi.com</text><text class="wm" x="103.3" y="-4.3" font-size="8.5">®</text>
<text class="wm" x="112" y="0" font-size="9">SELINA</text></g>
<g transform="translate(522.1,316.7)"><path d="M-3.7,-18.2 C-1.8,-18.2 0.9,-17.8 3.0,-16.8 C5.1,-15.8 7.2,-13.9 8.8,-12.4 C10.4,-10.9 11.7,-9.4 12.6,-7.6 C13.5,-5.8 14.0,-3.6 14.1,-1.8 C14.2,-0.0 13.8,1.6 13.1,3.0 C12.4,4.4 11.4,5.8 10.2,6.8 C9.0,7.8 6.9,8.2 5.9,9.2 C5.0,10.2 5.3,11.1 4.5,12.6 C3.6,14.1 1.5,18.1 0.8,18.4 C0.1,18.7 1.2,15.2 0.1,14.5 C-1.0,13.8 -3.9,14.9 -5.7,14.1 C-7.5,13.3 -9.2,11.4 -10.5,9.7 C-11.8,8.0 -12.8,6.3 -13.4,3.9 C-14.0,1.5 -14.5,-2.0 -14.3,-4.7 C-14.1,-7.4 -13.4,-10.4 -12.4,-12.4 C-11.4,-14.4 -9.9,-15.8 -8.5,-16.8 C-7.0,-17.8 -5.6,-18.2 -3.7,-18.2 Z" fill="#c8c8c8"/>
<path d="M-5.2,-11.5 C-4.2,-12.2 -1.8,-12.5 0.1,-12.0 C2.0,-11.5 4.4,-10.0 5.9,-8.6 C7.4,-7.2 8.6,-5.4 9.3,-3.8 C10.0,-2.2 10.4,-0.4 10.2,1.0 C9.9,2.5 8.8,3.9 7.8,4.9 C6.8,5.9 5.4,6.3 4.0,6.8 C2.6,7.3 0.6,8.1 -0.8,7.8 C-2.2,7.5 -3.9,6.0 -4.7,4.9 C-5.5,3.8 -5.3,2.0 -5.7,1.0 C-6.1,-0.1 -7.1,-0.6 -7.1,-1.4 C-7.1,-2.2 -5.9,-2.8 -5.7,-3.8 C-5.5,-4.8 -6.2,-6.3 -6.1,-7.6 C-6.0,-8.9 -6.2,-10.8 -5.2,-11.5 Z" fill="#fafafa"/>
<path d="M0.8,-5.3 L3.6,-4.6 M0.4,4.2 C1.6,5.2 3,5.2 4.2,4.6" stroke="#d2d2d2" stroke-width="0.9" fill="none"/></g>
<g transform="translate(542.7,300.4) rotate(-29.5)"><text class="wm" x="0" y="0" font-size="8.8">夏欣怡房产网</text>
<text class="wm" x="62" y="0" font-size="8.9">REALTOR</text>
<text class="wmu" x="1.5" y="17.6" font-size="17.5" letter-spacing="-0.55">www.xiaxinyi.com</text><text class="wm" x="103.3" y="-4.3" font-size="8.5">®</text>
<text class="wm" x="112" y="0" font-size="9">SELINA</text></g>
<g transform="translate(534.0,428.2)"><path d="M-3.7,-18.2 C-1.8,-18.2 0.9,-17.8 3.0,-16.8 C5.1,-15.8 7.2,-13.9 8.8,-12.4 C10.4,-10.9 11.7,-9.4 12.6,-7.6 C13.5,-5.8 14.0,-3.6 14.1,-1.8 C14.2,-0.0 13.8,1.6 13.1,3.0 C12.4,4.4 11.4,5.8 10.2,6.8 C9.0,7.8 6.9,8.2 5.9,9.2 C5.0,10.2 5.3,11.1 4.5,12.6 C3.6,14.1 1.5,18.1 0.8,18.4 C0.1,18.7 1.2,15.2 0.1,14.5 C-1.0,13.8 -3.9,14.9 -5.7,14.1 C-7.5,13.3 -9.2,11.4 -10.5,9.7 C-11.8,8.0 -12.8,6.3 -13.4,3.9 C-14.0,1.5 -14.5,-2.0 -14.3,-4.7 C-14.1,-7.4 -13.4,-10.4 -12.4,-12.4 C-11.4,-14.4 -9.9,-15.8 -8.5,-16.8 C-7.0,-17.8 -5.6,-18.2 -3.7,-18.2 Z" fill="#c8c8c8"/>
<path d="M-5.2,-11.5 C-4.2,-12.2 -1.8,-12.5 0.1,-12.0 C2.0,-11.5 4.4,-10.0 5.9,-8.6 C7.4,-7.2 8.6,-5.4 9.3,-3.8 C10.0,-2.2 10.4,-0.4 10.2,1.0 C9.9,2.5 8.8,3.9 7.8,4.9 C6.8,5.9 5.4,6.3 4.0,6.8 C2.6,7.3 0.6,8.1 -0.8,7.8 C-2.2,7.5 -3.9,6.0 -4.7,4.9 C-5.5,3.8 -5.3,2.0 -5.7,1.0 C-6.1,-0.1 -7.1,-0.6 -7.1,-1.4 C-7.1,-2.2 -5.9,-2.8 -5.7,-3.8 C-5.5,-4.8 -6.2,-6.3 -6.1,-7.6 C-6.0,-8.9 -6.2,-10.8 -5.2,-11.5 Z" fill="#fafafa"/>
<path d="M0.8,-5.3 L3.6,-4.6 M0.4,4.2 C1.6,5.2 3,5.2 4.2,4.6" stroke="#d2d2d2" stroke-width="0.9" fill="none"/></g>
<g transform="translate(554.6,411.9) rotate(-29.5)"><text class="wm" x="0" y="0" font-size="8.8">夏欣怡房产网</text>
<text class="wm" x="62" y="0" font-size="8.9">REALTOR</text>
<text class="wmu" x="1.5" y="17.6" font-size="17.5" letter-spacing="-0.55">www.xiaxinyi.com</text><text class="wm" x="103.3" y="-4.3" font-size="8.5">®</text>
<text class="wm" x="112" y="0" font-size="9">SELINA</text></g>
<g transform="translate(546.8,532.5)"><path d="M-3.7,-18.2 C-1.8,-18.2 0.9,-17.8 3.0,-16.8 C5.1,-15.8 7.2,-13.9 8.8,-12.4 C10.4,-10.9 11.7,-9.4 12.6,-7.6 C13.5,-5.8 14.0,-3.6 14.1,-1.8 C14.2,-0.0 13.8,1.6 13.1,3.0 C12.4,4.4 11.4,5.8 10.2,6.8 C9.0,7.8 6.9,8.2 5.9,9.2 C5.0,10.2 5.3,11.1 4.5,12.6 C3.6,14.1 1.5,18.1 0.8,18.4 C0.1,18.7 1.2,15.2 0.1,14.5 C-1.0,13.8 -3.9,14.9 -5.7,14.1 C-7.5,13.3 -9.2,11.4 -10.5,9.7 C-11.8,8.0 -12.8,6.3 -13.4,3.9 C-14.0,1.5 -14.5,-2.0 -14.3,-4.7 C-14.1,-7.4 -13.4,-10.4 -12.4,-12.4 C-11.4,-14.4 -9.9,-15.8 -8.5,-16.8 C-7.0,-17.8 -5.6,-18.2 -3.7,-18.2 Z" fill="#c8c8c8"/>
<path d="M-5.2,-11.5 C-4.2,-12.2 -1.8,-12.5 0.1,-12.0 C2.0,-11.5 4.4,-10.0 5.9,-8.6 C7.4,-7.2 8.6,-5.4 9.3,-3.8 C10.0,-2.2 10.4,-0.4 10.2,1.0 C9.9,2.5 8.8,3.9 7.8,4.9 C6.8,5.9 5.4,6.3 4.0,6.8 C2.6,7.3 0.6,8.1 -0.8,7.8 C-2.2,7.5 -3.9,6.0 -4.7,4.9 C-5.5,3.8 -5.3,2.0 -5.7,1.0 C-6.1,-0.1 -7.1,-0.6 -7.1,-1.4 C-7.1,-2.2 -5.9,-2.8 -5.7,-3.8 C-5.5,-4.8 -6.2,-6.3 -6.1,-7.6 C-6.0,-8.9 -6.2,-10.8 -5.2,-11.5 Z" fill="#fafafa"/>
<path d="M0.8,-5.3 L3.6,-4.6 M0.4,4.2 C1.6,5.2 3,5.2 4.2,4.6" stroke="#d2d2d2" stroke-width="0.9" fill="none"/></g>
<g transform="translate(567.4,516.2) rotate(-29.5)"><text class="wm" x="0" y="0" font-size="8.8">夏欣怡房产网</text>
<text class="wm" x="62" y="0" font-size="8.9">REALTOR</text>
<text class="wmu" x="1.5" y="17.6" font-size="17.5" letter-spacing="-0.55">www.xiaxinyi.com</text><text class="wm" x="103.3" y="-4.3" font-size="8.5">®</text>
<text class="wm" x="112" y="0" font-size="9">SELINA</text></g>
<g transform="translate(681.0,67.5)"><path d="M-3.7,-18.2 C-1.8,-18.2 0.9,-17.8 3.0,-16.8 C5.1,-15.8 7.2,-13.9 8.8,-12.4 C10.4,-10.9 11.7,-9.4 12.6,-7.6 C13.5,-5.8 14.0,-3.6 14.1,-1.8 C14.2,-0.0 13.8,1.6 13.1,3.0 C12.4,4.4 11.4,5.8 10.2,6.8 C9.0,7.8 6.9,8.2 5.9,9.2 C5.0,10.2 5.3,11.1 4.5,12.6 C3.6,14.1 1.5,18.1 0.8,18.4 C0.1,18.7 1.2,15.2 0.1,14.5 C-1.0,13.8 -3.9,14.9 -5.7,14.1 C-7.5,13.3 -9.2,11.4 -10.5,9.7 C-11.8,8.0 -12.8,6.3 -13.4,3.9 C-14.0,1.5 -14.5,-2.0 -14.3,-4.7 C-14.1,-7.4 -13.4,-10.4 -12.4,-12.4 C-11.4,-14.4 -9.9,-15.8 -8.5,-16.8 C-7.0,-17.8 -5.6,-18.2 -3.7,-18.2 Z" fill="#c8c8c8"/>
<path d="M-5.2,-11.5 C-4.2,-12.2 -1.8,-12.5 0.1,-12.0 C2.0,-11.5 4.4,-10.0 5.9,-8.6 C7.4,-7.2 8.6,-5.4 9.3,-3.8 C10.0,-2.2 10.4,-0.4 10.2,1.0 C9.9,2.5 8.8,3.9 7.8,4.9 C6.8,5.9 5.4,6.3 4.0,6.8 C2.6,7.3 0.6,8.1 -0.8,7.8 C-2.2,7.5 -3.9,6.0 -4.7,4.9 C-5.5,3.8 -5.3,2.0 -5.7,1.0 C-6.1,-0.1 -7.1,-0.6 -7.1,-1.4 C-7.1,-2.2 -5.9,-2.8 -5.7,-3.8 C-5.5,-4.8 -6.2,-6.3 -6.1,-7.6 C-6.0,-8.9 -6.2,-10.8 -5.2,-11.5 Z" fill="#fafafa"/>
<path d="M0.8,-5.3 L3.6,-4.6 M0.4,4.2 C1.6,5.2 3,5.2 4.2,4.6" stroke="#d2d2d2" stroke-width="0.9" fill="none"/></g>
<g transform="translate(701.6,51.2) rotate(-29.5)"><text class="wm" x="0" y="0" font-size="8.8">夏欣怡房产网</text>
<text class="wm" x="62" y="0" font-size="8.9">REALTOR</text>
<text class="wmu" x="1.5" y="17.6" font-size="17.5" letter-spacing="-0.55">www.xiaxinyi.com</text></g>
<g transform="translate(681.0,194.2)"><path d="M-3.7,-18.2 C-1.8,-18.2 0.9,-17.8 3.0,-16.8 C5.1,-15.8 7.2,-13.9 8.8,-12.4 C10.4,-10.9 11.7,-9.4 12.6,-7.6 C13.5,-5.8 14.0,-3.6 14.1,-1.8 C14.2,-0.0 13.8,1.6 13.1,3.0 C12.4,4.4 11.4,5.8 10.2,6.8 C9.0,7.8 6.9,8.2 5.9,9.2 C5.0,10.2 5.3,11.1 4.5,12.6 C3.6,14.1 1.5,18.1 0.8,18.4 C0.1,18.7 1.2,15.2 0.1,14.5 C-1.0,13.8 -3.9,14.9 -5.7,14.1 C-7.5,13.3 -9.2,11.4 -10.5,9.7 C-11.8,8.0 -12.8,6.3 -13.4,3.9 C-14.0,1.5 -14.5,-2.0 -14.3,-4.7 C-14.1,-7.4 -13.4,-10.4 -12.4,-12.4 C-11.4,-14.4 -9.9,-15.8 -8.5,-16.8 C-7.0,-17.8 -5.6,-18.2 -3.7,-18.2 Z" fill="#c8c8c8"/>
<path d="M-5.2,-11.5 C-4.2,-12.2 -1.8,-12.5 0.1,-12.0 C2.0,-11.5 4.4,-10.0 5.9,-8.6 C7.4,-7.2 8.6,-5.4 9.3,-3.8 C10.0,-2.2 10.4,-0.4 10.2,1.0 C9.9,2.5 8.8,3.9 7.8,4.9 C6.8,5.9 5.4,6.3 4.0,6.8 C2.6,7.3 0.6,8.1 -0.8,7.8 C-2.2,7.5 -3.9,6.0 -4.7,4.9 C-5.5,3.8 -5.3,2.0 -5.7,1.0 C-6.1,-0.1 -7.1,-0.6 -7.1,-1.4 C-7.1,-2.2 -5.9,-2.8 -5.7,-3.8 C-5.5,-4.8 -6.2,-6.3 -6.1,-7.6 C-6.0,-8.9 -6.2,-10.8 -5.2,-11.5 Z" fill="#fafafa"/>
<path d="M0.8,-5.3 L3.6,-4.6 M0.4,4.2 C1.6,5.2 3,5.2 4.2,4.6" stroke="#d2d2d2" stroke-width="0.9" fill="none"/></g>
<g transform="translate(701.6,177.9) rotate(-29.5)"><text class="wm" x="0" y="0" font-size="8.8">夏欣怡房产网</text>
<text class="wm" x="62" y="0" font-size="8.9">REALTOR</text>
<text class="wmu" x="1.5" y="17.6" font-size="17.5" letter-spacing="-0.55">www.xiaxinyi.com</text><text class="wm" x="103.3" y="-4.3" font-size="8.5">®</text>
<text class="wm" x="112" y="0" font-size="9">SELINA</text></g>
<g transform="translate(681.4,311.5)"><path d="M-3.7,-18.2 C-1.8,-18.2 0.9,-17.8 3.0,-16.8 C5.1,-15.8 7.2,-13.9 8.8,-12.4 C10.4,-10.9 11.7,-9.4 12.6,-7.6 C13.5,-5.8 14.0,-3.6 14.1,-1.8 C14.2,-0.0 13.8,1.6 13.1,3.0 C12.4,4.4 11.4,5.8 10.2,6.8 C9.0,7.8 6.9,8.2 5.9,9.2 C5.0,10.2 5.3,11.1 4.5,12.6 C3.6,14.1 1.5,18.1 0.8,18.4 C0.1,18.7 1.2,15.2 0.1,14.5 C-1.0,13.8 -3.9,14.9 -5.7,14.1 C-7.5,13.3 -9.2,11.4 -10.5,9.7 C-11.8,8.0 -12.8,6.3 -13.4,3.9 C-14.0,1.5 -14.5,-2.0 -14.3,-4.7 C-14.1,-7.4 -13.4,-10.4 -12.4,-12.4 C-11.4,-14.4 -9.9,-15.8 -8.5,-16.8 C-7.0,-17.8 -5.6,-18.2 -3.7,-18.2 Z" fill="#c8c8c8"/>
<path d="M-5.2,-11.5 C-4.2,-12.2 -1.8,-12.5 0.1,-12.0 C2.0,-11.5 4.4,-10.0 5.9,-8.6 C7.4,-7.2 8.6,-5.4 9.3,-3.8 C10.0,-2.2 10.4,-0.4 10.2,1.0 C9.9,2.5 8.8,3.9 7.8,4.9 C6.8,5.9 5.4,6.3 4.0,6.8 C2.6,7.3 0.6,8.1 -0.8,7.8 C-2.2,7.5 -3.9,6.0 -4.7,4.9 C-5.5,3.8 -5.3,2.0 -5.7,1.0 C-6.1,-0.1 -7.1,-0.6 -7.1,-1.4 C-7.1,-2.2 -5.9,-2.8 -5.7,-3.8 C-5.5,-4.8 -6.2,-6.3 -6.1,-7.6 C-6.0,-8.9 -6.2,-10.8 -5.2,-11.5 Z" fill="#fafafa"/>
<path d="M0.8,-5.3 L3.6,-4.6 M0.4,4.2 C1.6,5.2 3,5.2 4.2,4.6" stroke="#d2d2d2" stroke-width="0.9" fill="none"/></g>
<g transform="translate(702.0,295.2) rotate(-29.5)"><text class="wm" x="0" y="0" font-size="8.8">夏欣怡房产网</text>
<text class="wm" x="62" y="0" font-size="8.9">REALTOR</text>
<text class="wmu" x="1.5" y="17.6" font-size="17.5" letter-spacing="-0.55">www.xiaxinyi.com</text><text class="wm" x="103.3" y="-4.3" font-size="8.5">®</text>
<text class="wm" x="112" y="0" font-size="9">SELINA</text></g>
<g transform="translate(692.3,420.4)"><path d="M-3.7,-18.2 C-1.8,-18.2 0.9,-17.8 3.0,-16.8 C5.1,-15.8 7.2,-13.9 8.8,-12.4 C10.4,-10.9 11.7,-9.4 12.6,-7.6 C13.5,-5.8 14.0,-3.6 14.1,-1.8 C14.2,-0.0 13.8,1.6 13.1,3.0 C12.4,4.4 11.4,5.8 10.2,6.8 C9.0,7.8 6.9,8.2 5.9,9.2 C5.0,10.2 5.3,11.1 4.5,12.6 C3.6,14.1 1.5,18.1 0.8,18.4 C0.1,18.7 1.2,15.2 0.1,14.5 C-1.0,13.8 -3.9,14.9 -5.7,14.1 C-7.5,13.3 -9.2,11.4 -10.5,9.7 C-11.8,8.0 -12.8,6.3 -13.4,3.9 C-14.0,1.5 -14.5,-2.0 -14.3,-4.7 C-14.1,-7.4 -13.4,-10.4 -12.4,-12.4 C-11.4,-14.4 -9.9,-15.8 -8.5,-16.8 C-7.0,-17.8 -5.6,-18.2 -3.7,-18.2 Z" fill="#c8c8c8"/>
<path d="M-5.2,-11.5 C-4.2,-12.2 -1.8,-12.5 0.1,-12.0 C2.0,-11.5 4.4,-10.0 5.9,-8.6 C7.4,-7.2 8.6,-5.4 9.3,-3.8 C10.0,-2.2 10.4,-0.4 10.2,1.0 C9.9,2.5 8.8,3.9 7.8,4.9 C6.8,5.9 5.4,6.3 4.0,6.8 C2.6,7.3 0.6,8.1 -0.8,7.8 C-2.2,7.5 -3.9,6.0 -4.7,4.9 C-5.5,3.8 -5.3,2.0 -5.7,1.0 C-6.1,-0.1 -7.1,-0.6 -7.1,-1.4 C-7.1,-2.2 -5.9,-2.8 -5.7,-3.8 C-5.5,-4.8 -6.2,-6.3 -6.1,-7.6 C-6.0,-8.9 -6.2,-10.8 -5.2,-11.5 Z" fill="#fafafa"/>
<path d="M0.8,-5.3 L3.6,-4.6 M0.4,4.2 C1.6,5.2 3,5.2 4.2,4.6" stroke="#d2d2d2" stroke-width="0.9" fill="none"/></g>
<g transform="translate(712.9,404.1) rotate(-29.5)"><text class="wm" x="0" y="0" font-size="8.8">夏欣怡房产网</text>
<text class="wm" x="62" y="0" font-size="8.9">REALTOR</text>
<text class="wmu" x="1.5" y="17.6" font-size="17.5" letter-spacing="-0.55">www.xiaxinyi.com</text><text class="wm" x="103.3" y="-4.3" font-size="8.5">®</text>
<text class="wm" x="112" y="0" font-size="9">SELINA</text></g>
<g transform="translate(702.9,519.0)"><path d="M-3.7,-18.2 C-1.8,-18.2 0.9,-17.8 3.0,-16.8 C5.1,-15.8 7.2,-13.9 8.8,-12.4 C10.4,-10.9 11.7,-9.4 12.6,-7.6 C13.5,-5.8 14.0,-3.6 14.1,-1.8 C14.2,-0.0 13.8,1.6 13.1,3.0 C12.4,4.4 11.4,5.8 10.2,6.8 C9.0,7.8 6.9,8.2 5.9,9.2 C5.0,10.2 5.3,11.1 4.5,12.6 C3.6,14.1 1.5,18.1 0.8,18.4 C0.1,18.7 1.2,15.2 0.1,14.5 C-1.0,13.8 -3.9,14.9 -5.7,14.1 C-7.5,13.3 -9.2,11.4 -10.5,9.7 C-11.8,8.0 -12.8,6.3 -13.4,3.9 C-14.0,1.5 -14.5,-2.0 -14.3,-4.7 C-14.1,-7.4 -13.4,-10.4 -12.4,-12.4 C-11.4,-14.4 -9.9,-15.8 -8.5,-16.8 C-7.0,-17.8 -5.6,-18.2 -3.7,-18.2 Z" fill="#c8c8c8"/>
<path d="M-5.2,-11.5 C-4.2,-12.2 -1.8,-12.5 0.1,-12.0 C2.0,-11.5 4.4,-10.0 5.9,-8.6 C7.4,-7.2 8.6,-5.4 9.3,-3.8 C10.0,-2.2 10.4,-0.4 10.2,1.0 C9.9,2.5 8.8,3.9 7.8,4.9 C6.8,5.9 5.4,6.3 4.0,6.8 C2.6,7.3 0.6,8.1 -0.8,7.8 C-2.2,7.5 -3.9,6.0 -4.7,4.9 C-5.5,3.8 -5.3,2.0 -5.7,1.0 C-6.1,-0.1 -7.1,-0.6 -7.1,-1.4 C-7.1,-2.2 -5.9,-2.8 -5.7,-3.8 C-5.5,-4.8 -6.2,-6.3 -6.1,-7.6 C-6.0,-8.9 -6.2,-10.8 -5.2,-11.5 Z" fill="#fafafa"/>
<path d="M0.8,-5.3 L3.6,-4.6 M0.4,4.2 C1.6,5.2 3,5.2 4.2,4.6" stroke="#d2d2d2" stroke-width="0.9" fill="none"/></g>
<g transform="translate(723.5,502.7) rotate(-29.5)"><text class="wm" x="0" y="0" font-size="8.8">夏欣怡房产网</text>
<text class="wm" x="62" y="0" font-size="8.9">REALTOR</text>
<text class="wmu" x="1.5" y="17.6" font-size="17.5" letter-spacing="-0.55">www.xiaxinyi.com</text><text class="wm" x="103.3" y="-4.3" font-size="8.5">®</text>
<text class="wm" x="112" y="0" font-size="9">SELINA</text></g>
<text class="t" x="128" y="33" font-weight="bold" fill="#16275c" xml:space="preserve"><tspan font-size="20">Nanaimo 2016</tspan><tspan font-size="18.5">年第</tspan><tspan font-size="20">1</tspan><tspan font-size="18.5">季度至</tspan><tspan font-size="20">2019</tspan><tspan font-size="18.5">年第</tspan><tspan font-size="20">1</tspan><tspan font-size="18.5">季度共管联排各季度</tspan></text>
<text class="t" x="375.8" y="64.5" font-size="18.2" font-weight="bold" fill="#16275c" text-anchor="middle">销售量变化趋势统计图</text>
<path d="M48.5,90.5 V434.3 H679.2" stroke="#16275c" stroke-width="1.4" fill="none"/>
<path d="M44.3,434.30 H48.5 M44.3,399.97 H48.5 M44.3,365.64 H48.5 M44.3,331.31 H48.5 M44.3,296.98 H48.5 M44.3,262.65 H48.5 M44.3,228.32 H48.5 M44.3,193.99 H48.5 M44.3,159.66 H48.5 M44.3,125.33 H48.5 M44.3,91.00 H48.5 M48.50,434.3 V438.3 M97.02,434.3 V438.3 M145.53,434.3 V438.3 M194.05,434.3 V438.3 M242.56,434.3 V438.3 M291.08,434.3 V438.3 M339.59,434.3 V438.3 M388.11,434.3 V438.3 M436.62,434.3 V438.3 M485.14,434.3 V438.3 M533.65,434.3 V438.3 M582.17,434.3 V438.3 M630.68,434.3 V438.3 M679.20,434.3 V438.3" stroke="#16275c" stroke-width="1.4" fill="none"/>
<text class="c" x="37" y="438.70" font-size="12.6" font-weight="bold" fill="#16275c" text-anchor="end">0</text>
<text class="c" x="37" y="404.37" font-size="12.6" font-weight="bold" fill="#16275c" text-anchor="end">10</text>
<text class="c" x="37" y="370.04" font-size="12.6" font-weight="bold" fill="#16275c" text-anchor="end">20</text>
<text class="c" x="37" y="335.71" font-size="12.6" font-weight="bold" fill="#16275c" text-anchor="end">30</text>
<text class="c" x="37" y="301.38" font-size="12.6" font-weight="bold" fill="#16275c" text-anchor="end">40</text>
<text class="c" x="37" y="267.05" font-size="12.6" font-weight="bold" fill="#16275c" text-anchor="end">50</text>
<text class="c" x="37" y="232.72" font-size="12.6" font-weight="bold" fill="#16275c" text-anchor="end">60</text>
<text class="c" x="37" y="198.39" font-size="12.6" font-weight="bold" fill="#16275c" text-anchor="end">70</text>
<text class="c" x="37" y="164.06" font-size="12.6" font-weight="bold" fill="#16275c" text-anchor="end">80</text>
<text class="c" x="37" y="129.73" font-size="12.6" font-weight="bold" fill="#16275c" text-anchor="end">90</text>
<text class="c" x="37" y="95.40" font-size="12.6" font-weight="bold" fill="#16275c" text-anchor="end">100</text>
<text class="c" x="73.76" y="449.90" font-size="12.2" font-weight="bold" fill="#16275c" text-anchor="end" dominant-baseline="central" transform="rotate(-45 73.76 449.90)">2016年第1季度</text>
<text class="c" x="122.27" y="449.90" font-size="12.2" font-weight="bold" fill="#16275c" text-anchor="end" dominant-baseline="central" transform="rotate(-45 122.27 449.90)">2016年第2季度</text>
<text class="c" x="170.79" y="449.90" font-size="12.2" font-weight="bold" fill="#16275c" text-anchor="end" dominant-baseline="central" transform="rotate(-45 170.79 449.90)">2016年第3季度</text>
<text class="c" x="219.30" y="449.90" font-size="12.2" font-weight="bold" fill="#16275c" text-anchor="end" dominant-baseline="central" transform="rotate(-45 219.30 449.90)">2016年第4季度</text>
<text class="c" x="267.82" y="449.90" font-size="12.2" font-weight="bold" fill="#16275c" text-anchor="end" dominant-baseline="central" transform="rotate(-45 267.82 449.90)">2017年第1季度</text>
<text class="c" x="316.33" y="449.90" font-size="12.2" font-weight="bold" fill="#16275c" text-anchor="end" dominant-baseline="central" transform="rotate(-45 316.33 449.90)">2017年第2季度</text>
<text class="c" x="364.85" y="449.90" font-size="12.2" font-weight="bold" fill="#16275c" text-anchor="end" dominant-baseline="central" transform="rotate(-45 364.85 449.90)">2017年第3季度</text>
<text class="c" x="413.37" y="449.90" font-size="12.2" font-weight="bold" fill="#16275c" text-anchor="end" dominant-baseline="central" transform="rotate(-45 413.37 449.90)">2017年第4季度</text>
<text class="c" x="461.88" y="449.90" font-size="12.2" font-weight="bold" fill="#16275c" text-anchor="end" dominant-baseline="central" transform="rotate(-45 461.88 449.90)">2018年第1季度</text>
<text class="c" x="510.40" y="449.90" font-size="12.2" font-weight="bold" fill="#16275c" text-anchor="end" dominant-baseline="central" transform="rotate(-45 510.40 449.90)">2018年第2季度</text>
<text class="c" x="558.91" y="449.90" font-size="12.2" font-weight="bold" fill="#16275c" text-anchor="end" dominant-baseline="central" transform="rotate(-45 558.91 449.90)">2018年第3季度</text>
<text class="c" x="607.43" y="449.90" font-size="12.2" font-weight="bold" fill="#16275c" text-anchor="end" dominant-baseline="central" transform="rotate(-45 607.43 449.90)">2018年第4季度</text>
<text class="c" x="655.94" y="449.90" font-size="12.2" font-weight="bold" fill="#16275c" text-anchor="end" dominant-baseline="central" transform="rotate(-45 655.94 449.90)">2019年第1季度</text>
<polyline points="72.76,235.19 121.27,128.76 169.79,156.23 218.30,238.62 266.82,252.35 315.33,169.96 363.85,163.09 412.37,214.59 460.88,290.11 509.40,214.59 557.91,235.19 606.43,290.11 654.94,314.14" stroke="#b00b12" stroke-width="2.8" fill="none" stroke-linejoin="round"/>
<path d="M72.76,230.39 L77.56,235.19 L72.76,239.99 L67.96,235.19 Z" fill="#b00b12"/>
<path d="M121.27,123.96 L126.07,128.76 L121.27,133.56 L116.47,128.76 Z" fill="#b00b12"/>
<path d="M169.79,151.43 L174.59,156.23 L169.79,161.03 L164.99,156.23 Z" fill="#b00b12"/>
<path d="M218.30,233.82 L223.10,238.62 L218.30,243.42 L213.50,238.62 Z" fill="#b00b12"/>
<path d="M266.82,247.55 L271.62,252.35 L266.82,257.15 L262.02,252.35 Z" fill="#b00b12"/>
<path d="M315.33,165.16 L320.13,169.96 L315.33,174.76 L310.53,169.96 Z" fill="#b00b12"/>
<path d="M363.85,158.29 L368.65,163.09 L363.85,167.89 L359.05,163.09 Z" fill="#b00b12"/>
<path d="M412.37,209.79 L417.17,214.59 L412.37,219.39 L407.57,214.59 Z" fill="#b00b12"/>
<path d="M460.88,285.31 L465.68,290.11 L460.88,294.91 L456.08,290.11 Z" fill="#b00b12"/>
<path d="M509.40,209.79 L514.20,214.59 L509.40,219.39 L504.60,214.59 Z" fill="#b00b12"/>
<path d="M557.91,230.39 L562.71,235.19 L557.91,239.99 L553.11,235.19 Z" fill="#b00b12"/>
<path d="M606.43,285.31 L611.23,290.11 L606.43,294.91 L601.63,290.11 Z" fill="#b00b12"/>
<path d="M654.94,309.34 L659.74,314.14 L654.94,318.94 L650.14,314.14 Z" fill="#b00b12"/>
<text class="c" x="91.2" y="239.9" font-size="12.5" fill="#16275c" text-anchor="middle">58</text>
<text class="c" x="119.9" y="121.4" font-size="12.5" fill="#16275c" text-anchor="middle">89</text>
<text class="c" x="159.9" y="177.7" font-size="12.5" fill="#16275c" text-anchor="middle">81</text>
<text class="c" x="213.4" y="257.2" font-size="12.5" fill="#16275c" text-anchor="middle">57</text>
<text class="c" x="274.7" y="267.3" font-size="12.5" fill="#16275c" text-anchor="middle">53</text>
<text class="c" x="302.2" y="164.4" font-size="12.5" fill="#16275c" text-anchor="middle">77</text>
<text class="c" x="358.9" y="183.2" font-size="12.5" fill="#16275c" text-anchor="middle">79</text>
<text class="c" x="406.5" y="229.6" font-size="12.5" fill="#16275c" text-anchor="middle">64</text>
<text class="c" x="445.5" y="288.9" font-size="12.5" fill="#16275c" text-anchor="middle">42</text>
<text class="c" x="501.9" y="205.7" font-size="12.5" fill="#16275c" text-anchor="middle">64</text>
<text class="c" x="570.2" y="227.7" font-size="12.5" fill="#16275c" text-anchor="middle">58</text>
<text class="c" x="607.1" y="310.9" font-size="12.5" fill="#16275c" text-anchor="middle">42</text>
<text class="c" x="669.3" y="315.0" font-size="12.5" fill="#16275c" text-anchor="middle">35</text>
<path d="M692,296 H716" stroke="#b00b12" stroke-width="2.8"/><path d="M704.4,292.2 L708.2,296 L704.4,299.8 L700.6,296 Z" fill="#b00b12"/>
<text class="c" x="718.5" y="300.2" font-size="11" font-weight="bold" fill="#16275c">已售</text>
<path d="M647,485 H724 V501 H747 V517 H623 V501 H647 Z" fill="#fff"/>
<text x="650" y="499.5" font-family="'Liberation Serif','Noto Serif CJK SC',serif" font-size="15.5" font-weight="500" fill="#e03e3e" letter-spacing="3.3">华人论坛</text>
<text x="626" y="512.5" font-family="'DejaVu Sans',sans-serif" font-size="13" fill="#3636d2" letter-spacing="0.5">Victoria/Nanaimo</text>
<rect x="1.1" y="1.1" width="751.8" height="516.8" rx="11.5" ry="11.5" fill="none" stroke="#0e1f55" stroke-width="2.3"/>
</svg>
</body></html>
